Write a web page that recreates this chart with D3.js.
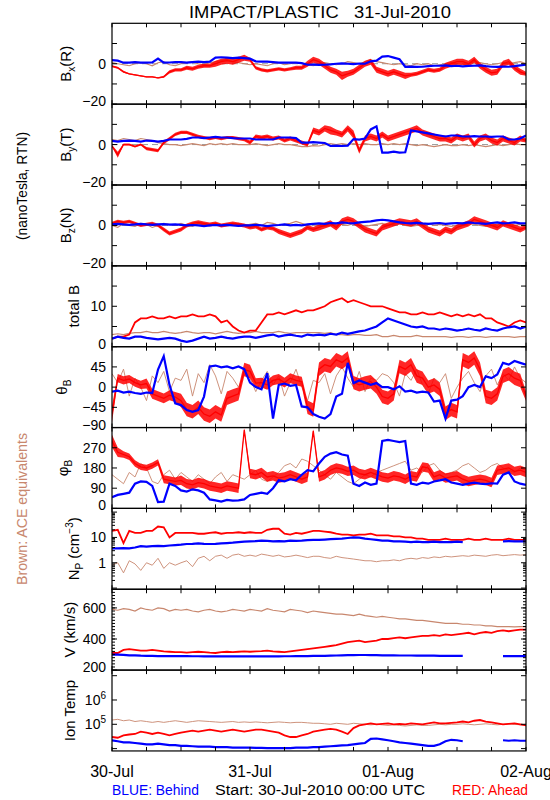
<!DOCTYPE html>
<html><head><meta charset="utf-8">
<script src="https://cdn.jsdelivr.net/npm/d3@7"></script>
<style>body{margin:0;background:#fff}svg{display:block}text{font-family:"Liberation Sans",Arial,sans-serif;fill:#000}</style>
</head><body>
<script>
// hourly samples, 30-Jul-2010 00:00 .. 02-Aug-2010 00:00 (73 values each)
const dayLabels = ["30-Jul","31-Jul","01-Aug","02-Aug"];
const title = "IMPACT/PLASTIC\u00a0\u00a0\u00a031-Jul-2010";

const bxBlue = [1.8,1.5,0.5,0.5,0.8,0.5,0.5,0.6,2.5,0.5,0.6,0.8, 0.8,0.5,0.8,1,0.8,1,3,3.2,3,2.8,3,2.8, 2.5,1.2,1,1,0.8,0.5,0.5,0.6,0.5,0.3,-0.5,-0.4, -0.6,-0.5,-0.3,0,0.2,0,-0.2,0.1,0,1.2,1.5,3.5, 3.8,3,2.2,-1.5,-1.4,-1.6,-1.5,-1.2,-1,-1,-0.8,-1.2, -1,-1.3,-1.1,-1,-0.8,-1.2,-1.5,-1.6,-1.4,-1.5,-1.2,-0.8, -0.5];
const bxRed = [-1.2,-2,-4,-5,-5.5,-6,-6.5,-6.5,-7,-6.5,-4,-3, -3,-2,-2.5,-1.5,-1,-1,0,1,1.5,1,2,3, 2,-2,-3,-3.5,-3,-2.5,-3,-2.5,-2,-2,0,2, 1,-1,-3,-4,-6,-5,-4,-2,0,1,-3,-4, -5,-4,-5,-6,-5.5,-5,-4,-3,-3.5,-3,-1,0, 1,1,0,2,-1,-3,-4.5,-4,0,1,-2,-4, -5];
const bxRedSpread = [0.5,0.5,0.5,0.3,0.3,0.3,0.3,0.3,0.3,0.5,0.8,0.8, 0.8,1,1,1,1,1,1.5,1.5,1.5,1.5,1.5,1.5, 1,0.8,0.8,0.8,0.8,0.8,0.8,0.8,1,1,1.5,1.5, 1.5,1.5,1.5,1.5,2,1.5,1.5,1.5,1.5,1.5,1.5,1.5, 1.5,1.5,1.5,1.5,1,1,1,1,1,1,1.5,1.5, 1.5,1.5,1.5,1.5,1.5,1.5,1.5,1.5,1.5,1.5,1.5,1.5, 1];
const bxBrown = [0.5,0,-0.5,-1,0,0.5,0,-1,0.5,1,-0.5,-1, 0,0.5,1,0,-0.5,0.5,1,1.5,2,1,0.5,0, -0.5,0,-0.5,-1,0,0.5,-0.5,0,0.5,0,-0.5,-1, 0,0.5,0,-0.5,0,1,0.5,0,1,2,1,0.5, 0,-0.5,0,-0.5,-1,0,-0.5,0,-1,-0.5,0,0.5, 0,-0.5,0,1,0.5,0,-0.5,0,0.5,0,0.5,1, 0];

const byBlue = [1.8,1.5,1.8,2,1.8,1.5,2,1.8,1.5,1.8,2.5,2.5, 2.5,2.8,3.5,3.5,3.2,3.5,3.8,3.5,3.5,3.2,3,3, 3,2.5,2.5,2.5,2.5,3.5,3.5,3.5,3.2,1,1,1.2, 1,0.8,-0.7,-0.5,-0.7,-0.5,2.7,2.5,3,7.5,9,-4, -4,-3.5,-4,-3.8,7,6.5,6,5.5,5,4.5,4,4.5, 4.5,4,4,4.2,4,4,3.8,4,4,2.5,2.5,3, 4.5];
const byRed = [-0.7,-5,0,0,-1,0,-2,-2.5,-3,1,3,5, 6,6,5,4,3.5,3,3.5,3,3.5,3.5,3,2.5, 1,4,3.5,4,3,3.5,2,3,2,1,0,7, 6,8,7,6,5,8,5,-3,3,4,3,5, 3,4,5,6,7,8,6,5,4,3,3,2, 4,3,4,0,3,4,2,1,3,2,1,3, 2];
const byRedSpread = [0.5,1.5,0.5,0.5,0.5,0.5,0.8,0.8,0.8,0.8,0.8,0.8, 0.8,0.8,0.8,0.8,0.8,0.8,0.8,0.8,0.8,0.8,0.8,0.8, 1,1,1,1,1,1,1,1,1,1,1,1.5, 1.5,1.5,2,1.5,1.5,1.5,2,1.5,1.5,1.5,1.5,1.5, 1.5,1.5,1.5,1.5,1.5,1.5,1.5,1.5,1.5,1.5,1.5,1.5, 1.5,1.5,1.5,1.5,1.5,1.5,1.5,1.5,1.5,1.5,1.5,1.5, 1];
const byBrown = [2.5,2,3,2.5,2,3,2.5,2,1,0.5,0,0, -0.5,0,0.5,0,-0.5,0.5,0,0.5,0,0.5,0,0, 0,0.5,0,-0.5,0,0.5,0,0,-0.5,-1,-1,-0.5, -0.7,0,0.5,0,0.5,0,0.5,0,0.5,0,0,0.5, 0,0.5,0,0.5,0,-0.5,0,-0.5,-1,-0.5,0,-0.5, -0.5,0,-0.5,0,-0.5,-1,-0.5,0,-0.5,0,0.5,0, 0];

const bzBlue = [0.5,0.8,0.5,0.3,0.5,0.8,0.5,0.3,0.5,0.6,0.4,0.5, 0.3,0,0.2,0,-0.3,0,0.2,0,0.3,0,-0.2,0, 0,0.3,0,-0.3,0,0.2,0.5,0,0.3,0,0.5,0.8, 1,0.8,1.2,1,1.5,1.2,1,1.5,1.8,2,2.5,2.8, 2.5,2,1.5,1.2,1,1.3,1,0.8,1,1.2,0.8,1, 1.2,1,1.5,1.2,1,0.8,1.2,1.5,1,1.2,1.5,1, 1];
const bzRed = [1,2,1.5,2,1,0,0.5,1,0,-2,-4,-3, -2,0,1,1.5,1,0.5,1,0,0.5,1,0.5,0, -1,-0.5,-2,-1,-1.5,-3,-4,-5,-4,-3,-1,-2, -1,0,1,-1,2,3,2,0,-2,-3,-4,-1, 0,1,2,1.5,1,2,0,-2,-3,-4,-2,-3, -1,0,1,3,2,1,0,-1,1,0,-1,-2, -1];
const bzRedSpread = [0.8,0.8,0.8,0.8,0.8,0.8,0.8,0.8,0.8,1,1,1, 1,1,1,1,1,1,1,1,1,1,1,1, 1,1,1,1,1,1.2,1.2,1.2,1.2,1.2,1.2,1.2, 1.5,1.5,1.5,1.5,1.5,1.5,1.5,1.5,1.5,1.5,1.5,1.5, 1.5,1.5,1.5,1.5,1.5,1.5,1.5,1.5,1.5,1.5,1.5,1.5, 1.5,1.5,1.5,1.5,1.5,1.5,1.5,1.5,1.5,1.5,1.5,1.5, 1];
const bzBrown = [0,-1,1,0,-0.5,1,0.5,-1,0,1,0.5,0, 1,0,-0.5,1,0.5,0,1,-0.5,0,0.5,1,0, 0.5,1,0,1.5,1,0,0.5,1,2,1,0,0.5, 0,-0.5,0,1,0.5,0,1,0,-0.5,0,0.5,1, 0,0.5,1,0,-0.5,0,0.5,1,0,0.5,0,-0.5, 0,0.5,1,0.5,0,-0.5,0,0.5,1,0.5,0,0.5, 0];

const btBlue = [2,2.5,2.2,2,2.5,2.5,2.2,2,1.8,2,2.2,2, 1.5,1.2,1.5,2,2.5,2,2.2,2.5,2.2,2,2.3,2.5, 2.5,2.2,2.5,2.8,3,2.5,2.8,3,2.7,2.5,3,2.8, 3,2.8,3.2,3,3.5,3.2,3.5,3.8,4,4.5,5,6, 7,6.5,6,5.5,5,4.8,5,4.5,4.5,4.2,4.5,4.3, 4,4.2,4.5,4.2,4,4.5,4.2,4,4.5,4.8,5,4.5, 5];
const btRed = [2,2.5,2.5,3,6,7,7,7.5,7,7,7.5,7, 7.5,7.5,8,7.5,7.5,8,7.5,6,6.5,5,4,3.5, 4,4,6,8,8,8.5,8,8.5,9,8.5,9,9, 9.5,10,11,11.5,12,11,11.5,11,10.5,10,10,10, 9.5,9,8.5,8.5,8,8,8.5,8,8,8.5,8,7.5, 8,7.5,8,7.5,8,7,7,6,5.5,5,6,6.5, 6];
const btBrown = [3,3.2,3,3.3,3.5,3.5,3.8,3.5,3.5,3.8,3.5,3.3, 3.5,3.8,3.5,3.3,3.5,3.5,3.2,3.5,3.8,3.5,3.3,3.5, 3.5,3.8,3.5,3.5,3.5,3.8,3.5,3.3,3.5,3.5,3.5,3.5, 3.5,3.3,3.5,3,3,2.8,3,3,2.8,2.8,3,2.5, 2.5,2.8,2.5,2.5,2.5,2.8,2.5,2.5,2.5,2.5,2.5,2.3, 2.5,2.5,2.3,2.5,2.5,2.3,2.5,2.5,2.5,2.5,2.3,2.5, 2.5];

const thBlue = [-10,-8,-12,-10,-13,-15,-12,-13,39,69,5,-36, -40,-51,-55,-51,-21,46,48,44,46,42,46,40, 10,0,-5,31,-70,5,8,3,5,-43,-45,-60, -66,-70,-60,-21,-15,54,9,15,10,5,9,0, 0,-5,2,-10,-8,-12,-10,-12,-32,-30,-70,-30, -28,-20,0,5,0,24,20,28,54,50,58,54, 50];
const thRed = [-60,20,15,18,10,5,8,-15,-20,-25,-18,-22, -30,-50,-55,-45,-60,-65,-55,-62,-25,-20,-15,39, 35,9,10,5,15,18,10,20,15,12,-45,-51, 40,50,46,61,55,65,10,5,9,12,0,-21, -25,-15,46,40,50,25,20,0,5,-5,-58,-50, -55,61,55,65,40,-21,-25,-15,24,30,20,15, -20];
const thRedSpread = [18,9,9,9,9,9,11,11,11,11,11,11, 15,15,15,15,15,15,15,15,15,15,15,15, 15,11,11,11,11,11,11,11,11,11,15,15, 15,15,15,15,15,15,15,15,15,15,15,15, 15,15,15,15,15,15,15,15,15,15,15,15, 15,15,15,15,15,15,15,15,15,15,15,15, 11];
const thBrown = [30,10,40,-20,20,0,-30,25,10,35,-10,20, 15,40,-20,30,10,50,25,-15,35,20,0,30, 20,-10,15,35,5,25,-20,10,40,0,-30,15, 10,30,-15,25,45,20,0,35,-10,20,15,30, 25,10,-20,30,15,40,5,-15,20,10,30,-25, 0,20,35,10,-10,25,40,5,30,15,45,20, 10];

const phBlue = [50,60,65,70,110,120,118,100,28,30,110,100, 80,75,85,80,70,40,36,30,38,35,36,40, 60,65,70,65,90,125,120,130,125,150,170,165, 200,230,244,250,240,235,110,100,115,105,110,300, 305,300,295,300,110,105,115,110,120,125,130,115, 110,105,110,115,110,108,112,110,150,160,120,110, 105];
const phRed = [300,250,240,230,200,185,180,190,205,130,125,120, 125,110,105,115,110,100,95,90,100,95,90,350, 155,150,160,140,145,135,140,150,140,130,140,345, 140,150,170,180,175,165,170,155,150,160,150,140, 135,145,140,130,145,140,185,180,140,150,135,140, 145,130,120,125,130,125,115,170,175,180,165,170, 160];
const phRedSpread = [28,21,14,14,14,14,14,14,14,18,18,18, 21,21,21,21,21,21,21,21,21,21,21,7, 21,21,21,21,21,21,21,21,21,21,21,7, 21,21,21,21,21,21,21,21,21,21,21,21, 21,21,21,21,21,21,21,21,21,21,21,21, 21,21,21,21,21,21,21,21,21,21,21,21, 21];
const phBrown = [150,130,110,160,140,200,180,120,110,150,170,130, 160,140,120,150,130,110,140,160,120,150,140,130, 150,170,130,120,140,160,190,200,180,220,210,190, 170,150,130,160,140,120,110,130,150,140,160,170, 180,190,200,210,170,180,160,190,200,170,150,160, 170,190,200,180,160,170,190,200,180,170,160,180, 170];

const npRed = [18,20,6,18,15,15,18,18,27,25,10,15, 15,15,15,14,14,15,16,14,15,15,16,15, 16,15,15,20,22,22,14,13,15,14,16,18, 18,17,16,14,13,13,12,13,13,14,12,12, 12,11,11,10,10,9,9,8,8,8,9,8, 8,8,9,8,8,9,8,8,8,9,8,8, 8];
const npBlue = [3.7,3.7,3.8,3.7,4,4.5,4.3,4.5,4.6,4.5,4.8,5, 5.2,5.5,5.6,5.8,5.6,5.5,5.6,5.8,6,6.2,6.5,6.8, 7,7.2,7.5,7.3,7,7.2,7,7.5,7.3,7.5,7.8,8, 8,8.2,8.5,8.8,9,9.5,10,9.8,9,8.5,8,7.5, 7.5,7,7,6.8,6.5,6.8,6.5,6.5,6.8,6.5,6.5,6.5, 6.8,6.5,null,null,null,null,null,null,7,7.2,7,7, 7];
const npBrown = [0.8,1,0.4,1.2,0.9,0.5,1,0.8,1.5,0.6,1,0.8, 1,1.2,0.7,1.5,1.8,1.2,1.8,2,1.5,2,2.2,1.8, 2,1.8,2.2,2,1.8,2,1.7,1.8,2,1.8,1.6,1.8, 1.8,1.6,1.5,1.8,1.6,1.5,1.4,1.3,1.2,1.2,1.1,1.2, 1.2,1.3,1.2,1.4,1.5,1.4,1.6,1.5,1.7,1.6,1.8,1.7, 1.8,1.9,1.8,2,1.9,1.8,2,2.1,1.9,2,2.1,2, 2.1];

const vRed = [310,310,330,335,330,325,325,330,325,320,318,315, 315,312,315,318,315,312,310,315,318,316,318,320, 318,320,322,325,320,318,315,320,325,330,335,340, 345,350,355,360,370,380,385,390,380,385,390,400, 400,405,410,405,410,415,420,420,425,420,430,425, 430,435,440,430,440,445,440,450,455,450,455,460, 460];
const vBlue = [300,300,298,295,295,293,292,292,290,290,290,290, 290,290,289,289,288,288,288,288,288,288,288,288, 288,288,288,288,288,288,289,289,290,290,290,292, 292,292,293,294,295,296,296,297,297,296,296,295, 295,295,294,294,294,293,293,293,293,292,292,292, 292,292,null,null,null,null,null,null,290,290,290,290, 290];
const vBrown = [590,585,595,590,580,600,590,585,600,595,580,590, 585,590,580,575,585,590,580,575,580,590,585,580, 590,585,580,595,585,580,575,590,585,580,570,580, 575,570,565,560,560,555,550,560,550,545,540,545, 540,535,530,530,525,520,520,515,510,505,500,500, 500,495,495,490,490,485,485,480,480,480,478,480, 480];

const tRed = [3e4,2.8e4,3.5e4,3.8e4,4e4,5e4,4.5e4,4e4,4.5e4,4e4,3.5e4,4e4, 4.5e4,5e4,5.5e4,5e4,5.5e4,6e4,5.5e4,5e4,5.5e4,6e4,5.5e4,5e4, 5.5e4,6e4,6e4,5.5e4,5e4,4.5e4,3.5e4,3e4,3e4,3.5e4,4e4,5e4, 5.5e4,6e4,6.5e4,6e4,5e4,4e4,7e4,9e4,1e5,1.1e5,1e5,1.05e5, 1.1e5,1e5,1.05e5,1e5,1.1e5,1.05e5,1e5,1.1e5,1.2e5,1.1e5,1.1e5,1.15e5, 1.2e5,1.3e5,1.2e5,1.4e5,1.5e5,1.3e5,1.2e5,1.1e5,1e5,1.05e5,1.1e5,1e5, 9e4];
const tBlue = [2.2e4,2e4,1.8e4,1.8e4,1.7e4,1.6e4,1.5e4,1.5e4,1.6e4,1.5e4,1.4e4,1.4e4, 1.3e4,1.3e4,1.25e4,1.2e4,1.2e4,1.2e4,1.15e4,1.15e4,1.15e4,1.1e4,1.1e4,1.1e4, 1.1e4,1.08e4,1.08e4,1.05e4,1.05e4,1.05e4,1.05e4,1.05e4,1.1e4,1.1e4,1.1e4,1.15e4, 1.15e4,1.2e4,1.25e4,1.3e4,1.35e4,1.4e4,1.5e4,1.6e4,1.7e4,2.5e4,2.6e4,2.4e4, 2.2e4,2e4,1.8e4,1.7e4,1.6e4,1.5e4,1.4e4,1.3e4,1.3e4,1.5e4,2e4,2.3e4, 2.2e4,2e4,null,null,null,null,null,null,2.2e4,2.1e4,2.2e4,2.1e4, 2.1e4];
const tBrown = [1.5e5,1.6e5,1.4e5,1.5e5,1.3e5,1.4e5,1.3e5,1.2e5,1.3e5,1.2e5,1.3e5,1.4e5, 1.3e5,1.2e5,1.3e5,1.4e5,1.35e5,1.3e5,1.25e5,1.2e5,1.25e5,1.3e5,1.2e5,1.25e5, 1.2e5,1.25e5,1.2e5,1.15e5,1.2e5,1.25e5,1.2e5,1.15e5,1.2e5,1.2e5,1.15e5,1.1e5, 1.1e5,1.05e5,1e5,1.1e5,1.05e5,1e5,1.1e5,1.05e5,1e5,9.5e4,1e5,9.5e4, 9e4,9.5e4,9e4,8.5e4,9e4,9.5e4,9e4,9e4,9.5e4,1e5,9.5e4,1e5, 1e5,1.05e5,1e5,9.5e4,1e5,1.05e5,1e5,9.5e4,1e5,1.05e5,1e5,9.5e4, 1e5];

const C = {red:"#ff0000", blue:"#0000ff", brown:"#c8876e"};
const W=550, H=800, L=112, R=526, T0=23.3, PH=80.85;

// each panel: series order brown, red, blue; sp = optional spread arrays (same order)
const panels = [
 {label:[["B"],["x","sub"],["(R)"]], lx:71, type:"lin", domain:[-20,20], ticks:[-20,-10,0,10], labels:[-20,0], zero:true, s:[bxBrown,bxRed,bxBlue], sp:[null,bxRedSpread,null]},
 {label:[["B"],["y","sub"],["(T)"]], lx:71, type:"lin", domain:[-20,20], ticks:[-20,-10,0,10], labels:[-20,0], zero:true, s:[byBrown,byRed,byBlue], sp:[null,byRedSpread,null]},
 {label:[["B"],["z","sub"],["(N)"]], lx:71, type:"lin", domain:[-20,20], ticks:[-20,-10,0,10], labels:[-20,0], zero:true, s:[bzBrown,bzRed,bzBlue], sp:[null,bzRedSpread,null]},
 {label:[["total B"]], lx:79, type:"lin", domain:[0,20], ticks:[0,5,10,15], labels:[0,10], s:[btBrown,btRed,btBlue]},
 {label:[["θ"],["B","sub"]], lx:67, type:"lin", domain:[-90,90], ticks:[-90,-45,0,45], labels:[-90,-45,0,45], dots:true, s:[thBrown,thRed,thBlue], sp:[null,thRedSpread,null]},
 {label:[["φ"],["B","sub"]], lx:68, type:"lin", domain:[0,360], ticks:[0,90,180,270], labels:[0,90,180,270], dots:true, s:[phBrown,phRed,phBlue], sp:[null,phRedSpread,null]},
 {label:[["N"],["P","sub"],[" (cm"],["−3","sup"],[")"]], lx:79, type:"log", domain:[0.09,140], ticks:[0.1,1,10,100], labels:[1,10], minor:true, dots:true, s:[npBrown,npRed,npBlue]},
 {label:[["V (km/s)"]], lx:75, type:"lin", domain:[200,720], ticks:[200,400,600], labels:[200,400,600], vminor:true, s:[vBrown,vRed,vBlue]},
 {label:[["Ion Temp"]], lx:75, type:"log", domain:[8e3,1.7e7], ticks:[1e4,1e5,1e6,1e7], labels:[1e5,1e6], exp:true, dots:true, s:[tBrown,tRed,tBlue]}
];

const svg = d3.select("body").append("svg").attr("width",W).attr("height",H);
const x = d3.scaleLinear().domain([0,72]).range([L,R]);
const defs = svg.append("defs");

svg.append("text").attr("x",320).attr("y",18).attr("text-anchor","middle")
  .attr("font-size",17).attr("textLength",262).attr("lengthAdjust","spacingAndGlyphs").text(title);

const fmt = v => String(v).replace("-","−");

panels.forEach((p,i)=>{
  const top=T0+i*PH, bot=top+PH;
  const y = (p.type==="log"?d3.scaleLog():d3.scaleLinear()).domain(p.domain).range([bot,top]);
  const g = svg.append("g");
  defs.append("clipPath").attr("id","c"+i).append("rect").attr("x",L).attr("y",top).attr("width",R-L).attr("height",PH);
  const pg = g.append("g").attr("clip-path",`url(#c${i})`);
  if(p.zero) pg.append("line").attr("x1",L).attr("x2",R).attr("y1",y(0)).attr("y2",y(0))
      .attr("stroke","#999").attr("stroke-dasharray","6,4").attr("stroke-width",1);
  const cols=[C.brown,C.red,C.blue], widths=[1.2,1.8,2.2];
  p.s.forEach((arr,k)=>{
    const sp = p.sp && p.sp[k];
    if(sp){
      const area=d3.area().defined(d=>d!=null).x((d,j)=>x(j)).y0((d,j)=>y(d-sp[j])).y1((d,j)=>y(d+sp[j]));
      pg.append("path").datum(arr).attr("d",area).attr("fill",cols[k]).attr("opacity",0.85);
    }
    const line=d3.line().defined(d=>d!=null).x((d,j)=>x(j)).y(d=>y(d));
    pg.append("path").datum(arr).attr("d",line).attr("fill","none")
      .attr("stroke",cols[k]).attr("stroke-width",(p.dots&&k===0)?0.9:(sp?1.3:widths[k]));
  });
  g.append("rect").attr("x",L).attr("y",top).attr("width",R-L).attr("height",PH)
    .attr("fill","none").attr("stroke","#000").attr("stroke-width",1.2);
  d3.range(0,73,6).forEach(h=>{
    g.append("line").attr("x1",x(h)).attr("x2",x(h)).attr("y1",top).attr("y2",top+4).attr("stroke","#000");
    g.append("line").attr("x1",x(h)).attr("x2",x(h)).attr("y1",bot).attr("y2",bot-4).attr("stroke","#000");
  });
  p.ticks.forEach(t=>{
    const yy=y(t);
    g.append("line").attr("x1",L).attr("x2",L+5).attr("y1",yy).attr("y2",yy).attr("stroke","#000");
    g.append("line").attr("x1",R).attr("x2",R-5).attr("y1",yy).attr("y2",yy).attr("stroke","#000");
  });
  if(p.minor){
    p.ticks.forEach(t=>{ for(let m=2;m<10;m++){ const v=t*m; if(v>p.domain[0]&&v<p.domain[1]){
      const yy=y(v);
      g.append("line").attr("x1",L).attr("x2",L+3).attr("y1",yy).attr("y2",yy).attr("stroke","#000");
      g.append("line").attr("x1",R).attr("x2",R-3).attr("y1",yy).attr("y2",yy).attr("stroke","#000");
    }}});
  }
  if(p.vminor){
    d3.range(220,720,20).forEach(v=>{ const yy=y(v);
      g.append("line").attr("x1",L).attr("x2",L+3).attr("y1",yy).attr("y2",yy).attr("stroke","#000");
      g.append("line").attr("x1",R).attr("x2",R-3).attr("y1",yy).attr("y2",yy).attr("stroke","#000");
    });
  }
  p.labels.forEach(t=>{
    let yy=y(t); if(Math.abs(yy-bot)<1) yy-=3;
    const tx=g.append("text").attr("x",106).attr("y",yy+5).attr("text-anchor","end").attr("font-size",14);
    if(p.exp){ tx.append("tspan").text("10"); tx.append("tspan").attr("dy",-6).attr("font-size",10).text(Math.round(Math.log10(t))); }
    else tx.text(fmt(t));
  });
  const lt=g.append("text").attr("transform",`translate(${p.lx},${(top+bot)/2}) rotate(-90)`)
    .attr("text-anchor","middle").attr("font-size",15);
  let shift=0;
  p.label.forEach(([s,kind])=>{
    const ts=lt.append("tspan").text(s);
    if(kind==="sub"){ts.attr("dy",4-shift).attr("font-size",10); shift=4;}
    else if(kind==="sup"){ts.attr("dy",-6-shift).attr("font-size",10); shift=-6;}
    else if(shift!==0){ts.attr("dy",-shift); shift=0;}
  });
});

svg.append("text").attr("transform","translate(27,186) rotate(-90)").attr("text-anchor","middle")
  .attr("font-size",14).attr("textLength",108).attr("lengthAdjust","spacingAndGlyphs").text("(nanoTesla, RTN)");
svg.append("text").attr("transform","translate(27,509) rotate(-90)").attr("text-anchor","middle")
  .attr("font-size",14).attr("textLength",152).attr("lengthAdjust","spacingAndGlyphs")
  .style("fill",C.brown).text("Brown: ACE equivalents");

dayLabels.forEach((d,k)=>{
  svg.append("text").attr("x",x(k*24)).attr("y",777).attr("text-anchor","middle").attr("font-size",16).text(d);
});
svg.append("text").attr("x",112).attr("y",795).attr("font-size",14).attr("textLength",87).attr("lengthAdjust","spacingAndGlyphs").style("fill",C.blue).text("BLUE: Behind");
svg.append("text").attr("x",215).attr("y",795).attr("font-size",14).attr("textLength",210).attr("lengthAdjust","spacingAndGlyphs").text("Start: 30-Jul-2010 00:00 UTC");
svg.append("text").attr("x",452).attr("y",795).attr("font-size",14).attr("textLength",76).attr("lengthAdjust","spacingAndGlyphs").style("fill",C.red).text("RED: Ahead");
</script>
</body></html>
